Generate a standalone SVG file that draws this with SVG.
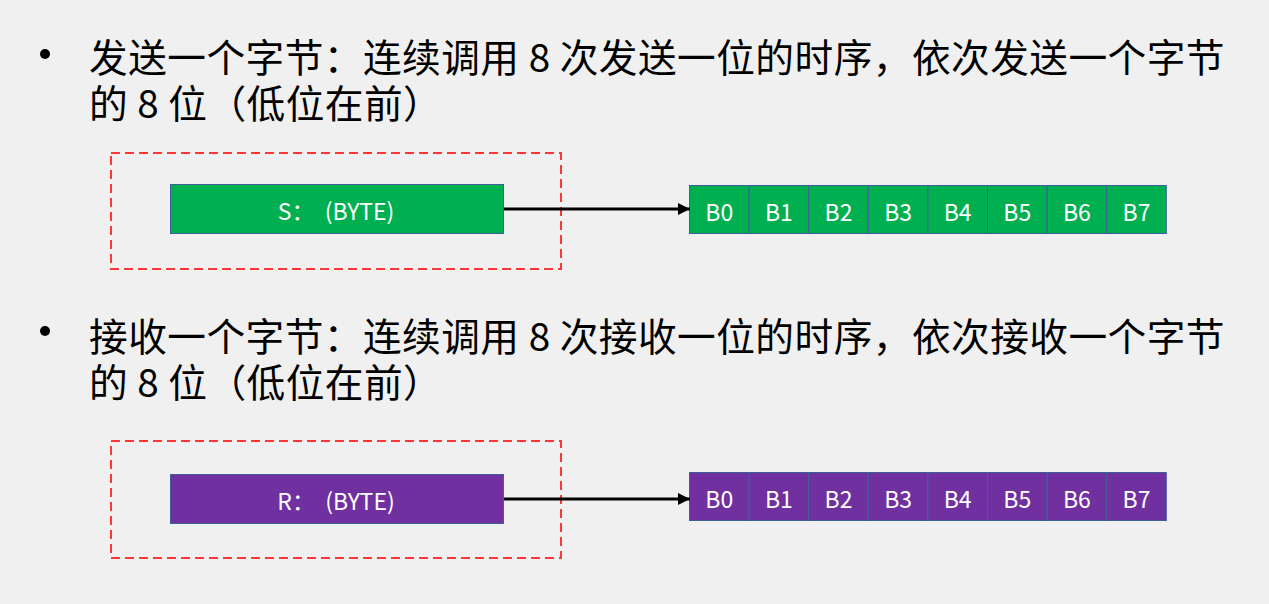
<svg xmlns="http://www.w3.org/2000/svg" width="1269" height="604" viewBox="0 0 1269 604">
<defs>
<style>
.title{font-family:"Noto Sans CJK SC","Microsoft YaHei",sans-serif;font-size:38.7px;fill:#000;letter-spacing:0.45px}
.lbl{font-family:"Noto Sans CJK SC","Microsoft YaHei",sans-serif;font-size:23px;fill:#fff;text-anchor:middle;dominant-baseline:central}
.dash{fill:none;stroke:#ff3636;stroke-width:2;stroke-dasharray:9 5}
.g{fill:#00b050;stroke:#3f5f9a;stroke-width:1}
.p{fill:#7030a0;stroke:#3f5f9a;stroke-width:1}
.conn{stroke:#000;stroke-width:3;fill:none}
</style>
<marker id="ah" markerWidth="12" markerHeight="12" viewBox="0 0 12 12" refX="12" refY="6" orient="auto" markerUnits="userSpaceOnUse">
<path d="M0,0 L12,6 L0,12 Z" fill="#000"/>
</marker>
</defs>
<rect width="1269" height="604" fill="#f0f0f0"/>

<g id="text-send">
<circle cx="45" cy="54" r="5" fill="#000"/>
<text class="title"><tspan x="89" y="72">发送一个字节：连续调用 8 次发送一位的时序，依次发送一个字节</tspan><tspan x="89" y="118">的 8 位（低位在前）</tspan></text>
</g>

<g id="text-recv">
<circle cx="45" cy="331" r="5" fill="#000"/>
<text class="title"><tspan x="89" y="351">接收一个字节：连续调用 8 次接收一位的时序，依次接收一个字节</tspan><tspan x="89" y="397">的 8 位（低位在前）</tspan></text>
</g>

<g id="frame-send"><rect class="dash" x="111" y="153" width="450" height="116"/></g>
<g id="frame-recv"><rect class="dash" x="111" y="441" width="450" height="117"/></g>

<g id="node-S">
<rect class="g" x="170.5" y="184.5" width="333" height="49"/>
<text class="lbl" x="336" y="210" xml:space="preserve">S：  (BYTE)</text>
</g>
<g id="node-R">
<rect class="p" x="170.5" y="474.5" width="333" height="49"/>
<text class="lbl" x="336" y="500" xml:space="preserve">R：  (BYTE)</text>
</g>

<g id="bits-send">
<rect class="g" x="689.5" y="185.5" width="59.6" height="48"/><text class="lbl" x="719.3" y="211">B0</text>
<rect class="g" x="749.1" y="185.5" width="59.6" height="48"/><text class="lbl" x="778.9" y="211">B1</text>
<rect class="g" x="808.7" y="185.5" width="59.6" height="48"/><text class="lbl" x="838.5" y="211">B2</text>
<rect class="g" x="868.3" y="185.5" width="59.6" height="48"/><text class="lbl" x="898.1" y="211">B3</text>
<rect class="g" x="927.9" y="185.5" width="59.6" height="48"/><text class="lbl" x="957.7" y="211">B4</text>
<rect class="g" x="987.5" y="185.5" width="59.6" height="48"/><text class="lbl" x="1017.3" y="211">B5</text>
<rect class="g" x="1047.1" y="185.5" width="59.6" height="48"/><text class="lbl" x="1076.9" y="211">B6</text>
<rect class="g" x="1106.7" y="185.5" width="59.6" height="48"/><text class="lbl" x="1136.5" y="211">B7</text>
</g>
<g id="bits-recv">
<rect class="p" x="689.5" y="472.5" width="59.6" height="48"/><text class="lbl" x="719.3" y="498">B0</text>
<rect class="p" x="749.1" y="472.5" width="59.6" height="48"/><text class="lbl" x="778.9" y="498">B1</text>
<rect class="p" x="808.7" y="472.5" width="59.6" height="48"/><text class="lbl" x="838.5" y="498">B2</text>
<rect class="p" x="868.3" y="472.5" width="59.6" height="48"/><text class="lbl" x="898.1" y="498">B3</text>
<rect class="p" x="927.9" y="472.5" width="59.6" height="48"/><text class="lbl" x="957.7" y="498">B4</text>
<rect class="p" x="987.5" y="472.5" width="59.6" height="48"/><text class="lbl" x="1017.3" y="498">B5</text>
<rect class="p" x="1047.1" y="472.5" width="59.6" height="48"/><text class="lbl" x="1076.9" y="498">B6</text>
<rect class="p" x="1106.7" y="472.5" width="59.6" height="48"/><text class="lbl" x="1136.5" y="498">B7</text>
</g>

<g id="connectors">
<line class="conn" x1="504" y1="209" x2="690" y2="209" marker-end="url(#ah)"/>
<line class="conn" x1="504" y1="499" x2="690" y2="499" marker-end="url(#ah)"/>
</g>
</svg>
